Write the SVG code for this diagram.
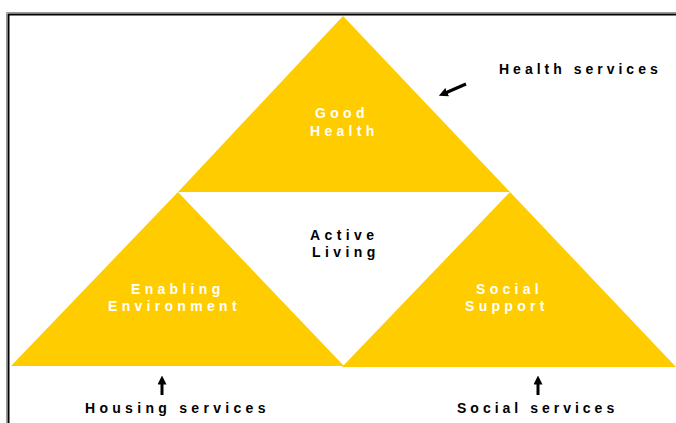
<svg xmlns="http://www.w3.org/2000/svg" width="676" height="423" viewBox="0 0 676 423">
  <defs>
    <style>
      .tri { fill: #ffcc00; }
      .lbl { font-family: "Liberation Sans", Arial, sans-serif; font-weight: bold; font-size: 14px; }
      .in { fill: #ffffff; letter-spacing: 4.3px; }
      .out { fill: #000000; letter-spacing: 4.0px; }
      .dark { fill: #000000; letter-spacing: 4.4px; }
      .arrow { stroke: #000; stroke-width: 3; fill: none; }
    </style>
    <marker id="head" viewBox="0 0 10 10" refX="5" refY="5" markerWidth="3" markerHeight="3" orient="auto" markerUnits="strokeWidth">
      <path d="M0,0 L10,5 L0,10 z" fill="#000"/>
    </marker>
  </defs>
  <rect width="676" height="423" fill="#ffffff"/>

  <!-- frame -->
  <g id="frame">
    <path d="M6.5,423 V12.5 H676" fill="none" stroke="#999" stroke-width="1"/>
    <path d="M8.5,423 V14.5 H676" fill="none" stroke="#000" stroke-width="2"/>
  </g>

  <g id="good-health">
    <polygon class="tri" points="343,16 510,192 178,192"/>
    <text class="lbl in" x="315" y="118">Good</text>
    <text class="lbl in" x="310" y="136">Health</text>
  </g>

  <g id="enabling-environment">
    <polygon class="tri" points="178,192 344,366 11,366"/>
    <text class="lbl in" x="131" y="294">Enabling</text>
    <text class="lbl in" x="108" y="311">Environment</text>
  </g>

  <g id="social-support">
    <polygon class="tri" points="510,192 676,367 342,367"/>
    <text class="lbl in" x="476" y="294">Social</text>
    <text class="lbl in" x="465" y="311">Support</text>
  </g>

  <g id="active-living">
    <text class="lbl dark" x="310" y="240">Active</text>
    <text class="lbl dark" x="312" y="257">Living</text>
  </g>

  <g id="health-services">
    <text class="lbl out" x="499" y="74">Health services</text>
  </g>
  <g id="housing-services">
    <text class="lbl out" x="85" y="413" style="letter-spacing:4.3px">Housing services</text>
  </g>
  <g id="social-services">
    <text class="lbl out" x="457" y="413">Social services</text>
  </g>

  <g id="connectors">
    <line class="arrow" x1="466" y1="84" x2="443" y2="94" marker-end="url(#head)"/>
    <line class="arrow" x1="162" y1="395" x2="162" y2="380" marker-end="url(#head)"/>
    <line class="arrow" x1="538" y1="395" x2="538" y2="380" marker-end="url(#head)"/>
  </g>
</svg>
